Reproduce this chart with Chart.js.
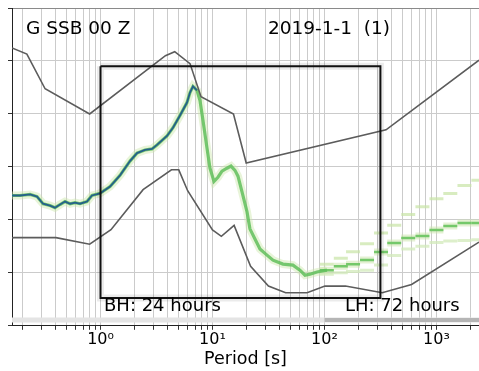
<!DOCTYPE html>
<html>
<head>
<meta charset="utf-8">
<script src="https://cdn.jsdelivr.net/npm/chart.js@4.4.0/dist/chart.umd.min.js"></script>
<style>
html, body { margin: 0; padding: 0; background: #fff; }
#wrap { width: 479px; height: 371px; }
</style>
</head>
<body>
<div id="wrap"><canvas id="ppsdChart"></canvas></div>
<script>
// BH mode of the PPSD (period [s] / power [dB])
const bhPeriods = [0.162, 0.191, 0.235, 0.271, 0.307, 0.354, 0.392, 0.435, 0.482, 0.535, 0.592, 0.656, 0.757, 0.839, 0.99,
    1.216, 1.493, 1.834, 2.118, 2.496, 2.882, 3.193, 3.923, 4.437, 5.125, 5.919, 6.296, 6.696, 7.275, 7.731, 8.226, 8.93, 9.50,
    10.31, 11.19, 12.16, 13.47, 14.63, 15.88, 16.89, 18.33, 20.32, 21.6, 23.95, 26.55, 30.67, 34.7, 42.6, 52.3, 60.4, 67.0,
    74.3, 85.8, 105.3];
const bhMode = [-150.8, -150.8, -150.4, -151.2, -153.9, -154.6, -155.4, -154.2, -153.1, -153.9, -153.5, -153.9, -153.1, -150.8, -150.0,
    -147.4, -143.2, -137.8, -134.8, -133.6, -133.2, -131.7, -128.3, -125.2, -120.6, -115.7, -111.9, -109.6, -111.1, -114.9, -122.5, -132.9, -140.5,
    -145.5, -143.9, -141.6, -140.5, -139.7, -141.3, -143.5, -149.3, -156.9, -163.4, -167.2, -171.0, -173.3, -175.2, -176.7, -177.1, -179.0, -180.9,
    -180.5, -179.7, -179.0];
const bhCoreEnd = 28; // dark core only up to the microseism peak

// LH bins, three days
const lhPeriods = [105, 140, 180, 240, 320, 420, 560, 750, 1000, 1330, 1780, 2370];
const lhUpper = [-176.8, -174.5, -172.0, -169.0, -165.0, -162.0, -158.0, -155.0, -152.0, -150.0, -147.0, -145.0];
const lhMiddle = [-179.0, -177.5, -176.8, -175.2, -172.1, -168.7, -166.8, -166.1, -163.8, -162.3, -161.2, -161.2];
const lhLower = [-180.5, -180.0, -179.5, -179.0, -177.0, -173.5, -171.0, -170.0, -168.5, -168.0, -167.8, -167.5];

// Peterson noise models
const nhnmPeriods = [0.162, 0.22, 0.32, 0.8, 3.8, 4.6, 6.3, 7.9, 15.4, 20, 354.8, 2400];
const nhnmPower = [-95.1, -97.4, -110.5, -120.0, -98.0, -96.5, -101.0, -113.5, -120.0, -138.5, -126.0, -99.7];
const nlnmPeriods = [0.162, 0.17, 0.4, 0.8, 1.24, 2.4, 4.3, 5.0, 6.0, 10, 12, 15.6, 21.9, 31.6, 45, 70, 101, 154, 328, 600, 2400];
const nlnmPower = [-166.8, -166.7, -166.7, -169.2, -163.7, -148.6, -141.1, -141.1, -149.0, -163.8, -166.2, -162.1, -177.5, -185.0,
    -187.5, -187.5, -185.0, -185.0, -187.5, -184.4, -168.4];

// BH frame and coverage bars
const boxPeriods = [1, 316, 316, 1, 1];
const boxPower = [-102, -102, -189.5, -189.5, -102];
const bhCoverPeriods = [0.162, 2400];
const lhCoverPeriods = [100, 2400];
const coverPower = -197.8;

// axes
const periodMin = 0.162;
const periodMax = 2400;
const powerMin = -200;
const powerMax = -80;
const majorTicks = [1, 10, 100, 1000];
const majorLabels = ['10⁰', '10¹', '10²', '10³'];
const minorTicks = [0.2, 0.3, 0.4, 0.5, 0.6, 0.7, 0.8, 0.9, 2, 3, 4, 5, 6, 7, 8, 9,
    20, 30, 40, 50, 60, 70, 80, 90, 200, 300, 400, 500, 600, 700, 800, 900, 2000];

const stationLabel = 'G SSB 00 Z';
const dateLabel = '2019-1-1  (1)';
const bhLabel = 'BH: 24 hours';
const lhLabel = 'LH: 72 hours';
const xTitle = 'Period [s]';

function pts(xs, ys) {
    return xs.map((x, i) => ({ x: x, y: Array.isArray(ys) ? ys[i] : ys }));
}

const allTicks = minorTicks.concat(majorTicks).sort((a, b) => a - b);

const textPlugin = {
    id: 'ppsdText',
    afterDatasetsDraw(chart) {
        const ctx = chart.ctx;
        ctx.save();
        ctx.fillStyle = '#000';
        ctx.textBaseline = 'alphabetic';
        ctx.font = '18.5px "DejaVu Sans"';
        ctx.fillText(stationLabel, 26, 34);
        ctx.fillText(dateLabel, 268, 34);
        ctx.font = '18px "DejaVu Sans"';
        ctx.fillText(bhLabel, 104, 311);
        ctx.fillText(lhLabel, 345, 311);
        ctx.restore();
    }
};

const lineDefaults = { pointRadius: 0, fill: false, tension: 0 };

function cells(values, color, width, order) {
    return {
        type: 'scatter', data: pts(lhPeriods, values), pointStyle: 'line', pointRadius: 7,
        pointBorderWidth: width, pointBorderColor: color, borderColor: color, order: order
    };
}

new Chart(document.getElementById('ppsdChart'), {
    type: 'line',
    data: {
        datasets: [
            { ...lineDefaults, data: pts(bhCoverPeriods, coverPower), borderColor: '#e4e4e4', borderWidth: 5, order: 20 },
            { ...lineDefaults, data: pts(lhCoverPeriods, coverPower), borderColor: '#b5b5b5', borderWidth: 4, order: 19 },
            { ...lineDefaults, data: pts(bhPeriods, bhMode), borderColor: 'rgba(205, 230, 170, 0.45)', borderWidth: 8, order: 15 },
            cells(lhUpper, 'rgba(200, 228, 165, 0.7)', 3, 14),
            cells(lhLower, 'rgba(210, 234, 185, 0.75)', 3, 14),
            cells(lhMiddle, 'rgba(205, 230, 175, 0.55)', 7, 13),
            cells(lhMiddle, '#74c86a', 2.5, 12),
            { ...lineDefaults, data: pts(bhPeriods, bhMode), borderColor: 'rgba(96, 192, 92, 0.85)', borderWidth: 3.2, order: 11 },
            { ...lineDefaults, data: pts(bhPeriods.slice(0, bhCoreEnd + 1), bhMode.slice(0, bhCoreEnd + 1)),
              borderColor: '#25618a', borderWidth: 1.8, order: 10 },
            { ...lineDefaults, data: pts(nhnmPeriods, nhnmPower), borderColor: '#5c5c5c', borderWidth: 1.6, order: 5 },
            { ...lineDefaults, data: pts(nlnmPeriods, nlnmPower), borderColor: '#5c5c5c', borderWidth: 1.6, order: 5 },
            { ...lineDefaults, data: pts(boxPeriods, boxPower), borderColor: 'rgba(0, 0, 0, 0.08)', borderWidth: 7, order: 3 },
            { ...lineDefaults, data: pts(boxPeriods, boxPower), borderColor: '#111', borderWidth: 2, order: 2 }
        ]
    },
    options: {
        responsive: true,
        maintainAspectRatio: false,
        animation: false,
        layout: { autoPadding: false, padding: { left: 8, top: 8, right: 0, bottom: 0 } },
        plugins: {
            legend: { display: false },
            tooltip: { enabled: false }
        },
        scales: {
            x: {
                type: 'logarithmic',
                position: 'bottom',
                min: periodMin,
                max: periodMax,
                afterBuildTicks: (scale) => {
                    scale.ticks = allTicks.map(v => ({ value: v, major: majorTicks.includes(v) }));
                },
                ticks: {
                    autoSkip: false,
                    maxRotation: 0,
                    padding: 0,
                    color: '#000',
                    font: { family: 'DejaVu Sans', size: 16 },
                    callback: (value) => {
                        const i = majorTicks.indexOf(value);
                        return i >= 0 ? majorLabels[i] : '';
                    }
                },
                grid: { color: '#cbcbcb', lineWidth: 1, tickLength: 4, tickColor: '#333' },
                border: { color: '#222', width: 1 },
                title: {
                    display: true,
                    text: xTitle,
                    color: '#000',
                    font: { family: 'DejaVu Sans', size: 17.5 },
                    padding: { top: 0, bottom: 1 }
                }
            },
            x2: {
                type: 'logarithmic',
                position: 'top',
                min: periodMin,
                max: periodMax,
                ticks: { display: false },
                grid: { drawOnChartArea: false, drawTicks: false },
                border: { color: '#8a8a8a', width: 1 }
            },
            y: {
                type: 'linear',
                min: powerMin,
                max: powerMax,
                ticks: { display: false, stepSize: 20 },
                grid: { color: '#cbcbcb', lineWidth: 1, tickLength: 4, tickColor: '#333' },
                border: { color: '#222', width: 1 }
            }
        }
    },
    plugins: [textPlugin]
});
</script>
</body>
</html>
